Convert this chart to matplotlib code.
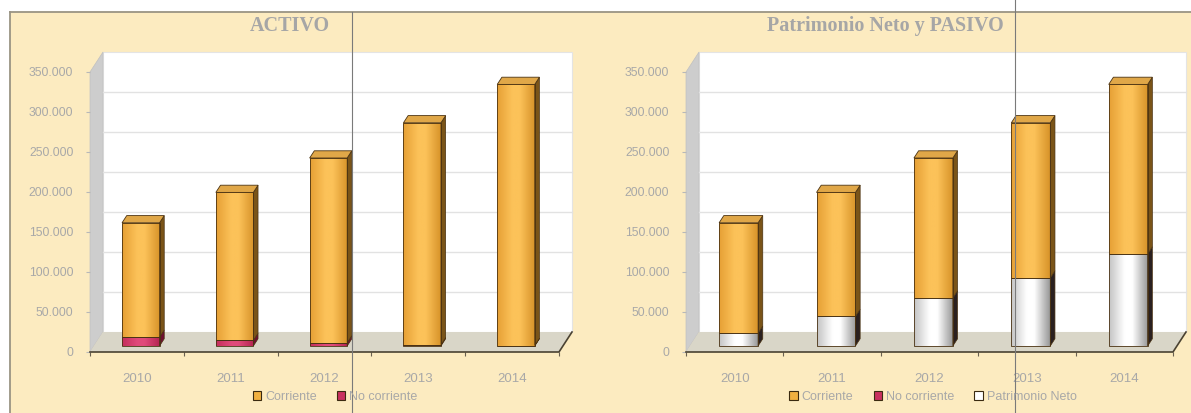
import numpy as np
import matplotlib
matplotlib.use("Agg")
import matplotlib.pyplot as plt
from matplotlib.patches import Polygon, Rectangle, Patch
from matplotlib.lines import Line2D
from matplotlib.colors import LinearSegmentedColormap

# datos del balance (euros)
years = ["2010", "2011", "2012", "2013", "2014"]
activo_no_corriente = [11000, 7000, 4000, 1500, 500]
activo_corriente = [143000, 185000, 231000, 277500, 326500]
pn_patrimonio = [16000, 37000, 60000, 85000, 115000]
pn_no_corriente = [0, 0, 0, 0, 0]
pn_corriente = [138000, 155000, 175000, 194000, 212000]
y_ticks = [0, 50000, 100000, 150000, 200000, 250000, 300000, 350000]
y_labels = ["0", "50.000", "100.000", "150.000", "200.000", "250.000", "300.000", "350.000"]

W, H = 1191, 413
BG = "#fcebc0"
TXT = "#a8a8a8"
EDGE = "#4a3212"

# estilos de cada serie: (frente izq, centro, frente der, lateral, tapa, leyenda)
styles = {
    "Corriente": ("#e6a035", "#fcc259", "#d8942a", "#7a5418", "#e0a748", "#f0b040"),
    "No corriente": ("#c42e5c", "#e04a7a", "#b42452", "#6e1030", "#d8457a", "#c8305f"),
    "Patrimonio Neto": ("#c4c4c4", "#ffffff", "#9a9a9a", "#2a2020", "#f2f2f2", "#ffffff"),
}

plt.rcParams["font.family"] = ["Liberation Sans", "DejaVu Sans"]
fig = plt.figure(figsize=(W / 100, H / 100), dpi=100, facecolor="white")


def fx(x):
    return x / W


def fy(y):
    return 1 - y / H


# fondo crema con borde superior e izquierdo
fig.add_artist(Rectangle((fx(10), 0), 1 - fx(10), fy(12), transform=fig.transFigure,
                         facecolor=BG, edgecolor="none", zorder=-10))
fig.add_artist(Line2D([fx(10), 1], [fy(12), fy(12)], color="#9a9484", lw=1.3))
fig.add_artist(Line2D([fx(10), fx(10)], [0, fy(12)], color="#9a9484", lw=1.3))


def legend_order(series):
    order = ["Corriente", "No corriente", "Patrimonio Neto"]
    return sorted(series, key=lambda s: order.index(s[0]))


def draw_panel(left, right, series, title, title_x, legend_x):
    ax = fig.add_axes([fx(left), fy(352), fx(right - left), 280 / H])
    ax.set_facecolor("none")
    for s in ax.spines.values():
        s.set_visible(False)
    cat_px = (right - left) / 5
    dX = 13 / cat_px          # profundidad en unidades de categoria
    dY = 25000                # profundidad en unidades de valor
    top = 350000
    # pared del fondo, pared lateral y suelo
    ax.add_patch(Rectangle((-0.5 + dX, dY), 5, top, facecolor="white",
                           edgecolor="#e4e4e4", lw=0.8, clip_on=False, zorder=1))
    for v in y_ticks[1:-1]:
        ax.plot([-0.5 + dX, 4.5 + dX], [v + dY, v + dY], color="#e2e2e2", lw=1,
                clip_on=False, zorder=1.5)
    ax.add_patch(Polygon([(-0.5, 0), (-0.5 + dX, dY), (-0.5 + dX, top + dY), (-0.5, top)],
                         facecolor="#cdcdcd", edgecolor="#c0c0c0", lw=0.5, clip_on=False, zorder=1))
    ax.add_patch(Polygon([(-0.5, 0), (4.5, 0), (4.5 + dX, dY), (-0.5 + dX, dY)],
                         facecolor="#d9d6c8", edgecolor="none", clip_on=False, zorder=1))
    ax.plot([-0.5, 4.5, 4.5 + dX], [0, 0, dY], color="#4a4232", lw=1.2, clip_on=False, zorder=2)

    # barras apiladas con efecto 3D
    w = 0.4
    f, d = 0.3, 0.36
    bottom = np.zeros(len(years))
    n = len(series)
    for k, (name, vals) in enumerate(series):
        c_l, c_c, c_r, c_side, c_top, _ = styles[name]
        cmap = LinearSegmentedColormap.from_list(name, [(0, c_l), (0.4, c_c), (0.6, c_c), (1, c_r)])
        grad = np.linspace(0, 1, 64).reshape(1, -1)
        for i, v in enumerate(vals):
            if v <= 0:
                continue
            b = bottom[i]
            x0 = i - w / 2 + f * dX
            x1 = x0 + w
            y0 = b + f * dY
            y1 = b + v + f * dY
            rect = Rectangle((x0, y0), w, v, facecolor="none", edgecolor=EDGE, lw=0.6, zorder=4)
            ax.add_patch(rect)
            im = ax.imshow(grad, extent=(x0, x1, y0, y1), aspect="auto", cmap=cmap,
                           origin="lower", zorder=3)
            im.set_clip_path(rect)
            ax.add_patch(Polygon([(x1, y0), (x1 + d * dX, y0 + d * dY),
                                  (x1 + d * dX, y1 + d * dY), (x1, y1)],
                                 facecolor=c_side, edgecolor=EDGE, lw=0.5, zorder=3))
            is_top = all(series[j][1][i] <= 0 for j in range(k + 1, n))
            if is_top:
                ax.add_patch(Polygon([(x0, y1), (x1, y1), (x1 + d * dX, y1 + d * dY),
                                      (x0 + d * dX, y1 + d * dY)],
                                     facecolor=c_top, edgecolor=EDGE, lw=0.6, zorder=4))
        bottom = bottom + np.array(vals)

    ax.set_xlim(-0.5, 4.5)
    ax.set_ylim(0, top)
    ax.set_yticks(y_ticks)
    ax.set_yticklabels(y_labels)
    ax.tick_params(axis="y", length=3, color="#b8b8b8", labelcolor=TXT, labelsize=8.8, pad=9)
    ax.set_xticks(np.arange(-0.5, 5, 1))
    ax.set_xticklabels([])
    ax.set_xticks(np.arange(5), minor=True)
    ax.set_xticklabels(years, minor=True)
    ax.tick_params(axis="x", which="major", length=3, color="#6a6050", direction="out")
    ax.tick_params(axis="x", which="minor", length=0, labelcolor=TXT, labelsize=9.5, pad=15)

    fig.text(fx(title_x), fy(26), title, ha="center", va="center", fontsize=14.5,
             fontweight="bold", color="#a6a6a6", family=["Liberation Serif", "DejaVu Serif"])

    handles = [Patch(facecolor=styles[nm][5], edgecolor="#3a2a10", lw=0.8, label=nm)
               for nm, _ in legend_order(series)]
    fig.legend(handles=handles, loc="center", bbox_to_anchor=(fx(legend_x), fy(397)),
               ncol=len(handles), frameon=False, fontsize=9, labelcolor=TXT,
               handlelength=0.7, handleheight=0.7, handletextpad=0.3, columnspacing=1.6,
               borderpad=0)
    return ax


draw_panel(90, 559,
           [("No corriente", activo_no_corriente), ("Corriente", activo_corriente)],
           "ACTIVO", 290, 335)
draw_panel(686, 1173,
           [("Patrimonio Neto", pn_patrimonio), ("No corriente", pn_no_corriente),
            ("Corriente", pn_corriente)],
           "Patrimonio Neto y PASIVO", 885, 933)

# lineas verticales finas que cruzan la hoja
fig.add_artist(Line2D([fx(352), fx(352)], [0, fy(12)], color="#7a7a7a", lw=0.8))
fig.add_artist(Line2D([fx(1015), fx(1015)], [0, 1], color="#7a7a7a", lw=0.8))

fig.savefig("out.png", dpi=100, facecolor=fig.get_facecolor())
